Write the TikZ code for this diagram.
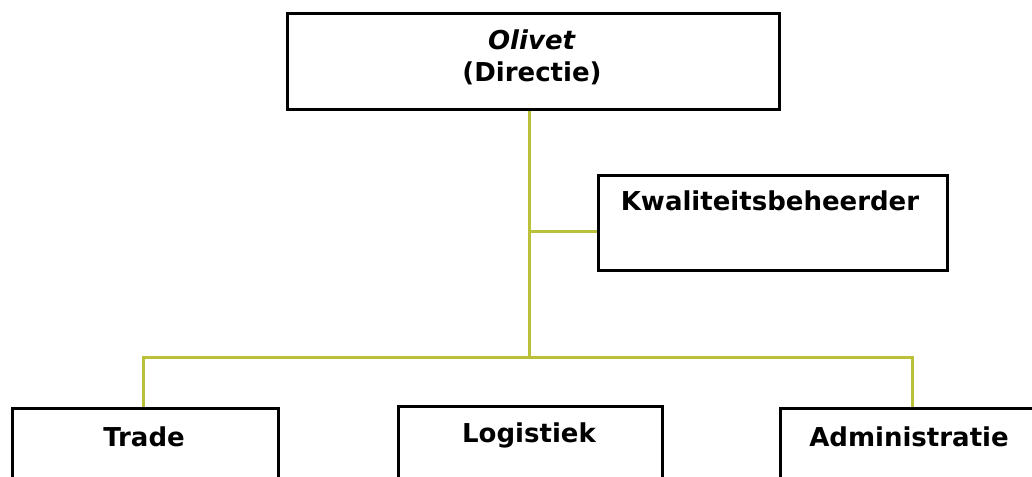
\documentclass[tikz,border=0pt]{standalone}
\usepackage{fontspec}
\setmainfont{DejaVu Sans}
\usepackage{tikz}
\usetikzlibrary{positioning}
\definecolor{lineolive}{RGB}{186, 192, 56}
\tikzset{unitbox/.style = {draw, line width = 3pt, rectangle, inner sep = 0, anchor = north west}}
\tikzset{unittext/.style = {font = \fontsize{26}{32}\selectfont\bfseries, align = center, inner sep = 0}}
\tikzset{orgline/.style = {lineolive, line width = 3pt}}

\begin{document}
\begin{tikzpicture}[x=1pt, y=-1pt]
    \useasboundingbox (0, 0) rectangle (1032, 476);
    \clip (0, 0) rectangle (1032, 476);

    % boxes
    \node [unitbox, minimum width = 492, minimum height = 96] (directie) at (286, 12) {};
    \node [unitbox, minimum width = 349, minimum height = 95] (kwaliteit) at (597, 174) {};
    \node [unitbox, minimum width = 266, minimum height = 100] (trade) at (11, 407) {};
    \node [unitbox, minimum width = 264, minimum height = 100] (logistiek) at (397, 405) {};
    \node [unitbox, minimum width = 280, minimum height = 100] (admin) at (779, 407) {};

    % texts
    \node [unittext] (directietxt) at (532, 57) {\textit{Olivet}\\(Directie)};
    \node [unittext] (kwaliteittxt) at (770, 201) {Kwaliteitsbeheerder};
    \node [unittext] (tradetxt) at (144, 437) {Trade};
    \node [unittext] (logistiektxt) at (529, 435) {Logistiek};
    \node [unittext] (admintxt) at (909, 437) {Administratie};

    % connectors
    \coordinate (split) at (529, 231);
    \coordinate (bus) at (529, 357);
    \coordinate (busleft) at (143, 357);
    \coordinate (busright) at (912, 357);
    \draw [orgline] (directie.south -| split) -- (bus);
    \draw [orgline] (split) -- (kwaliteit.west |- split);
    \draw [orgline] (trade.north -| busleft) -- (busleft) -- (busright) -- (admin.north -| busright);
  \end{tikzpicture}
\end{document}
